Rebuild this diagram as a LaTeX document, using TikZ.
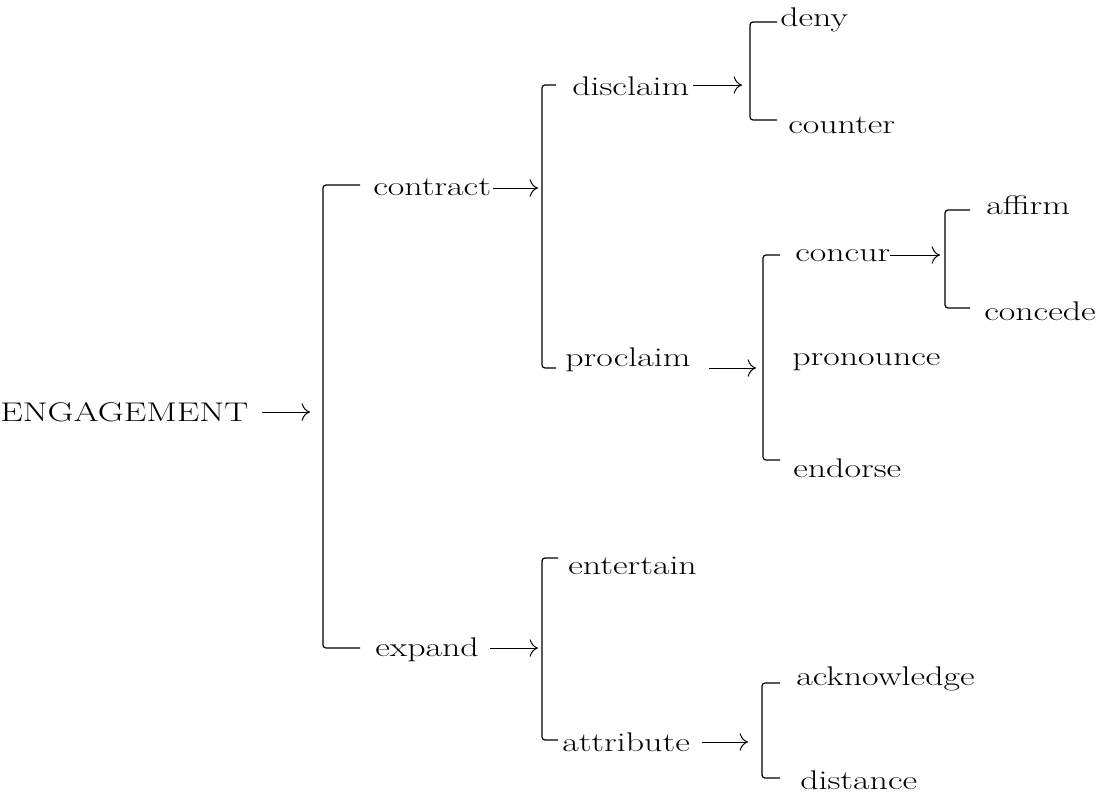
\documentclass[tikz,border=0pt]{standalone}
\usetikzlibrary{arrows.meta}
\begin{document}
\begin{tikzpicture}[x=1pt,y=-1pt,
  lab/.style={anchor=west,inner sep=0pt,xscale=1.33,font=\fontsize{27}{30}\selectfont},
  arr/.style={-{To[scale=2.2]},line width=1pt},
  brk/.style={line width=1.2pt,rounded corners=3pt}]
\useasboundingbox (0,0) rectangle (1100,800);
\newcommand{\brk}[4]{\draw[brk] (#4,#2) -- (#1,#2) -- (#1,#3) -- (#4,#3);}
\node[lab] (eng) at (0,412) {ENGAGEMENT};
\draw[arr] (262,412) -- (310,412);
\brk{323}{185}{648}{360}
\node[lab] (contract) at (373,187) {contract};
\node[lab] (expand) at (375,650) {expand};
\draw[arr] (493,188) -- (538,188);
\brk{542}{85}{368}{556}
\node[lab] (disclaim) at (572,86) {disclaim};
\node[lab] (proclaim) at (565,360) {proclaim};
\draw[arr] (693,85) -- (742,85);
\brk{750}{22}{120}{777}
\node[lab] (deny) at (780,20) {deny};
\node[lab] (counter) at (788,125) {counter};
\draw[arr] (709,368) -- (756,368);
\brk{763}{255}{460}{780}
\node[lab] (concur) at (795,256) {concur};
\node[lab] (pronounce) at (792,362) {pronounce};
\node[lab] (endorse) at (793,468) {endorse};
\draw[arr] (890,255) -- (940,255);
\brk{945}{210}{308}{970}
\node[lab] (affirm) at (986,205) {affirm};
\node[lab] (concede) at (984,311) {concede};
\draw[arr] (490,648) -- (538,648);
\brk{542}{558}{740}{558}
\node[lab] (entertain) at (568,566) {entertain};
\node[lab] (attribute) at (562,742) {attribute};
\draw[arr] (702,742) -- (748,742);
\brk{762}{683}{778}{780}
\node[lab] (ack) at (796,679) {acknowledge};
\node[lab] (distance) at (800,780) {distance};
\end{tikzpicture}
\end{document}
